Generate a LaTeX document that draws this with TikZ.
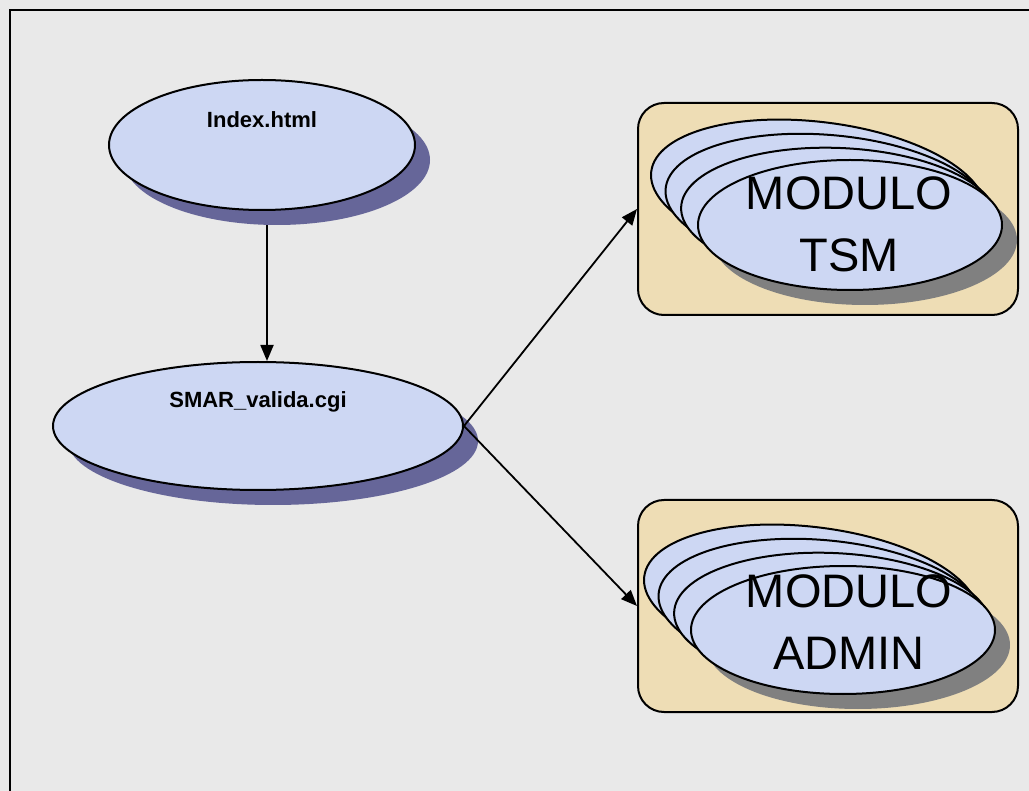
\documentclass[tikz,border=0pt]{standalone}
\usepackage{fontspec}
\setmainfont{Liberation Sans}
\usetikzlibrary{arrows.meta,shapes.geometric}
\definecolor{paper}{HTML}{E9E9E9}
\definecolor{bubble}{HTML}{CDD7F3}
\definecolor{bubbleshade}{HTML}{666699}
\definecolor{modshade}{HTML}{808080}
\definecolor{tray}{HTML}{EEDDB5}
\tikzset{
  bubblenode/.style={ellipse, draw=black, line width=2pt, fill=bubble, inner sep=0pt},
  shadenode/.style={ellipse, fill=bubbleshade, inner sep=0pt},
  modshadenode/.style={ellipse, fill=modshade, inner sep=0pt},
  traybox/.style={rectangle, rounded corners=26pt, draw=black, line width=2pt, fill=tray,
    minimum width=380pt, minimum height=212pt, inner sep=0pt},
  smalllabel/.style={font=\fontsize{22}{26}\selectfont\bfseries, inner sep=0pt},
  biglabel/.style={font=\fontsize{47}{62}\selectfont, align=center, inner sep=0pt},
  link/.style={line width=1.8pt, -{Triangle[length=16pt,width=13pt]}},
}
\begin{document}
\begin{tikzpicture}[x=1pt,y=1pt]
  % page and frame
  \fill[paper] (0,0) rectangle (1029,-791);
  \useasboundingbox (0,0) rectangle (1029,-791);
  \draw[line width=2.2pt] (10,-791) -- (10,-10) -- (1029,-10);

  % entry page
  \node[shadenode, minimum width=306pt, minimum height=130pt] (indexsh) at (277,-160) {};
  \node[bubblenode, minimum width=306pt, minimum height=130pt] (index) at (262,-145) {};
  \node[smalllabel, anchor=base] (indextxt) at (262,-128) {Index.html};

  % validation script
  \node[shadenode, minimum width=410pt, minimum height=128pt] (smarsh) at (273,-441) {};
  \node[bubblenode, minimum width=410pt, minimum height=128pt] (smar) at (258,-426) {};
  \node[smalllabel, anchor=base] (smartxt) at (258,-408) {SMAR\_valida.cgi};

  % TSM module group
  \node[traybox] (tsm) at (828,-209) {};
  \node[modshadenode, minimum width=304pt, minimum height=130pt] (tsmsh) at (865,-240) {};
  \node[bubblenode, minimum width=336pt, minimum height=140pt, rotate=-7] (tsm3) at (818,-192) {};
  \node[bubblenode, minimum width=326pt, minimum height=136pt, rotate=-5] (tsm2) at (828,-203) {};
  \node[bubblenode, minimum width=316pt, minimum height=132pt, rotate=-2.5] (tsm1) at (839,-214) {};
  \node[bubblenode, minimum width=304pt, minimum height=130pt] (tsm0) at (850,-225) {};
  \node[biglabel] (tsmtxt) at (849,-224.5) {MODULO\\TSM};

  % ADMIN module group
  \node[traybox] (adm) at (828,-606) {};
  \node[modshadenode, minimum width=304pt, minimum height=128pt] (admsh) at (858,-645) {};
  \node[bubblenode, minimum width=336pt, minimum height=140pt, rotate=-7] (adm3) at (811,-597) {};
  \node[bubblenode, minimum width=326pt, minimum height=136pt, rotate=-5] (adm2) at (821,-608) {};
  \node[bubblenode, minimum width=316pt, minimum height=132pt, rotate=-2.5] (adm1) at (832,-619) {};
  \node[bubblenode, minimum width=304pt, minimum height=128pt] (adm0) at (843,-630) {};
  \node[biglabel] (admtxt) at (849,-622) {MODULO\\ADMIN};

  % connectors
  \draw[link] ([xshift=5pt]index.south |- indexsh.south) -- ([xshift=5pt]index.south |- smar.north);
  \draw[link] (smar.east) -- (tsm.west);
  \draw[link] (smar.east) -- (adm.west);
\end{tikzpicture}
\end{document}
